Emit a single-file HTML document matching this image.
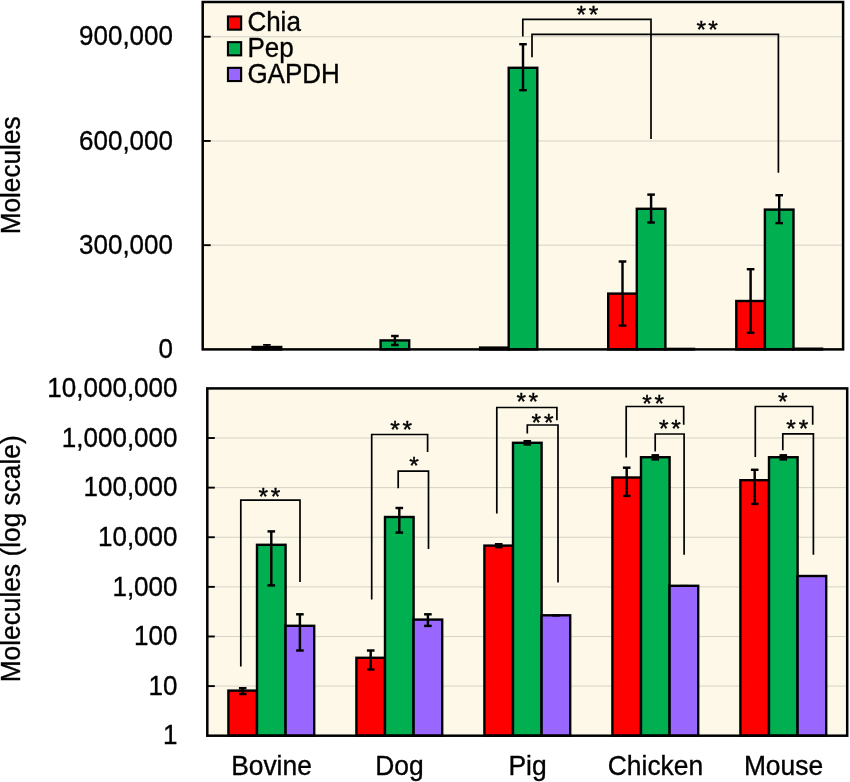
<!DOCTYPE html>
<html><head><meta charset="utf-8"><title>Chart</title>
<style>
html,body{margin:0;padding:0;background:#fff;}
body{width:850px;height:782px;overflow:hidden;font-family:"Liberation Sans",sans-serif;}
svg{display:block;will-change:transform;}
text{fill:#000;}
</style></head><body>
<svg width="850" height="782" viewBox="0 0 850 782">
<rect x="0" y="0" width="850" height="782" fill="#ffffff"/>
<rect x="202.7" y="2.0" width="640.4000000000001" height="347.4" fill="#fdf8e8"/>
<line x1="202.70" y1="245.18" x2="843.10" y2="245.18" stroke="#d6d2c6" stroke-width="1.0"/>
<line x1="202.70" y1="245.18" x2="210.70" y2="245.18" stroke="#000" stroke-width="1.9"/>
<line x1="202.70" y1="140.96" x2="843.10" y2="140.96" stroke="#d6d2c6" stroke-width="1.0"/>
<line x1="202.70" y1="140.96" x2="210.70" y2="140.96" stroke="#000" stroke-width="1.9"/>
<line x1="202.70" y1="36.74" x2="843.10" y2="36.74" stroke="#d6d2c6" stroke-width="1.0"/>
<line x1="202.70" y1="36.74" x2="210.70" y2="36.74" stroke="#000" stroke-width="1.9"/>
<rect x="252.60" y="347.00" width="28.60" height="2.40" fill="#00b050" stroke="#000" stroke-width="2.4"/>
<rect x="380.60" y="340.40" width="28.60" height="9.00" fill="#00b050" stroke="#000" stroke-width="2.4"/>
<rect x="480.10" y="347.60" width="28.60" height="1.80" fill="#ff0000" stroke="#000" stroke-width="2.4"/>
<rect x="508.70" y="67.80" width="28.60" height="281.60" fill="#00b050" stroke="#000" stroke-width="2.4"/>
<rect x="608.20" y="293.60" width="28.60" height="55.80" fill="#ff0000" stroke="#000" stroke-width="2.4"/>
<rect x="636.80" y="208.80" width="28.60" height="140.60" fill="#00b050" stroke="#000" stroke-width="2.4"/>
<rect x="665.40" y="348.90" width="28.60" height="0.50" fill="#9966ff" stroke="#000" stroke-width="2.4"/>
<rect x="736.30" y="301.00" width="28.60" height="48.40" fill="#ff0000" stroke="#000" stroke-width="2.4"/>
<rect x="764.90" y="209.60" width="28.60" height="139.80" fill="#00b050" stroke="#000" stroke-width="2.4"/>
<rect x="793.50" y="348.70" width="28.60" height="0.70" fill="#9966ff" stroke="#000" stroke-width="2.4"/>
<line x1="266.90" y1="344.90" x2="266.90" y2="348.00" stroke="#000" stroke-width="1.8"/>
<line x1="263.10" y1="344.90" x2="270.70" y2="344.90" stroke="#000" stroke-width="1.8"/>
<line x1="263.10" y1="348.00" x2="270.70" y2="348.00" stroke="#000" stroke-width="1.8"/>
<line x1="394.90" y1="336.00" x2="394.90" y2="345.00" stroke="#000" stroke-width="2.45"/>
<line x1="391.10" y1="336.00" x2="398.70" y2="336.00" stroke="#000" stroke-width="2.45"/>
<line x1="391.10" y1="345.00" x2="398.70" y2="345.00" stroke="#000" stroke-width="2.45"/>
<line x1="523.00" y1="44.20" x2="523.00" y2="90.20" stroke="#000" stroke-width="2.45"/>
<line x1="519.20" y1="44.20" x2="526.80" y2="44.20" stroke="#000" stroke-width="2.45"/>
<line x1="519.20" y1="90.20" x2="526.80" y2="90.20" stroke="#000" stroke-width="2.45"/>
<line x1="622.50" y1="261.50" x2="622.50" y2="325.60" stroke="#000" stroke-width="2.45"/>
<line x1="618.70" y1="261.50" x2="626.30" y2="261.50" stroke="#000" stroke-width="2.45"/>
<line x1="618.70" y1="325.60" x2="626.30" y2="325.60" stroke="#000" stroke-width="2.45"/>
<line x1="651.10" y1="194.60" x2="651.10" y2="222.50" stroke="#000" stroke-width="2.45"/>
<line x1="647.30" y1="194.60" x2="654.90" y2="194.60" stroke="#000" stroke-width="2.45"/>
<line x1="647.30" y1="222.50" x2="654.90" y2="222.50" stroke="#000" stroke-width="2.45"/>
<line x1="750.60" y1="269.20" x2="750.60" y2="332.70" stroke="#000" stroke-width="2.45"/>
<line x1="746.80" y1="269.20" x2="754.40" y2="269.20" stroke="#000" stroke-width="2.45"/>
<line x1="746.80" y1="332.70" x2="754.40" y2="332.70" stroke="#000" stroke-width="2.45"/>
<line x1="779.20" y1="195.20" x2="779.20" y2="223.10" stroke="#000" stroke-width="2.45"/>
<line x1="775.40" y1="195.20" x2="783.00" y2="195.20" stroke="#000" stroke-width="2.45"/>
<line x1="775.40" y1="223.10" x2="783.00" y2="223.10" stroke="#000" stroke-width="2.45"/>
<polyline points="522.80,36.50 522.80,19.30 651.00,19.30 651.00,139.00" fill="none" stroke="#000" stroke-width="1.7"/>
<polyline points="532.00,57.20 532.00,34.40 778.40,34.40 778.40,172.80" fill="none" stroke="#000" stroke-width="1.7"/>
<text x="581.30" y="22.70" font-size="24.5" text-anchor="middle" font-family="Liberation Sans, sans-serif" stroke="#000" stroke-width="0.4">*</text>
<text x="593.60" y="22.70" font-size="24.5" text-anchor="middle" font-family="Liberation Sans, sans-serif" stroke="#000" stroke-width="0.4">*</text>
<text x="701.20" y="37.70" font-size="24.5" text-anchor="middle" font-family="Liberation Sans, sans-serif" stroke="#000" stroke-width="0.4">*</text>
<text x="712.90" y="37.70" font-size="24.5" text-anchor="middle" font-family="Liberation Sans, sans-serif" stroke="#000" stroke-width="0.4">*</text>
<rect x="202.7" y="2.0" width="640.4000000000001" height="347.4" fill="none" stroke="#000" stroke-width="2.5"/>
<rect x="227.95" y="16.45" width="13.2" height="13.2" fill="#ff0000" stroke="#000" stroke-width="2.1"/>
<text x="247.40" y="31.45" font-size="27.2" text-anchor="start" font-family="Liberation Sans, sans-serif" textLength="53.47" lengthAdjust="spacingAndGlyphs" stroke="#000" stroke-width="0.35">Chia</text>
<rect x="227.95" y="42.15" width="13.2" height="13.2" fill="#00b050" stroke="#000" stroke-width="2.1"/>
<text x="247.40" y="57.15" font-size="27.2" text-anchor="start" font-family="Liberation Sans, sans-serif" textLength="46.26" lengthAdjust="spacingAndGlyphs" stroke="#000" stroke-width="0.35">Pep</text>
<rect x="227.95" y="67.85" width="13.2" height="13.2" fill="#9966ff" stroke="#000" stroke-width="2.1"/>
<text x="247.40" y="82.85" font-size="27.2" text-anchor="start" font-family="Liberation Sans, sans-serif" textLength="92.46" lengthAdjust="spacingAndGlyphs" stroke="#000" stroke-width="0.35">GAPDH</text>
<text x="173.00" y="358.10" font-size="27.9" text-anchor="end" font-family="Liberation Sans, sans-serif" textLength="14.46" lengthAdjust="spacingAndGlyphs" stroke="#000" stroke-width="0.35">0</text>
<text x="173.00" y="253.88" font-size="27.9" text-anchor="end" font-family="Liberation Sans, sans-serif" textLength="93.98" lengthAdjust="spacingAndGlyphs" stroke="#000" stroke-width="0.35">300,000</text>
<text x="173.00" y="149.66" font-size="27.9" text-anchor="end" font-family="Liberation Sans, sans-serif" textLength="93.98" lengthAdjust="spacingAndGlyphs" stroke="#000" stroke-width="0.35">600,000</text>
<text x="173.00" y="45.44" font-size="27.9" text-anchor="end" font-family="Liberation Sans, sans-serif" textLength="93.98" lengthAdjust="spacingAndGlyphs" stroke="#000" stroke-width="0.35">900,000</text>
<text x="0.00" y="0.00" font-size="27.5" text-anchor="middle" font-family="Liberation Sans, sans-serif" textLength="117.95" lengthAdjust="spacingAndGlyphs" stroke="#000" stroke-width="0.35" transform="translate(20.0,175.4) rotate(-90)">Molecules</text>
<rect x="207.3" y="388.4" width="639.9000000000001" height="347.30000000000007" fill="#fdf8e8"/>
<line x1="207.30" y1="686.09" x2="847.20" y2="686.09" stroke="#d6d2c6" stroke-width="1.0"/>
<line x1="207.30" y1="686.09" x2="214.80" y2="686.09" stroke="#000" stroke-width="1.9"/>
<line x1="207.30" y1="636.47" x2="847.20" y2="636.47" stroke="#d6d2c6" stroke-width="1.0"/>
<line x1="207.30" y1="636.47" x2="214.80" y2="636.47" stroke="#000" stroke-width="1.9"/>
<line x1="207.30" y1="586.86" x2="847.20" y2="586.86" stroke="#d6d2c6" stroke-width="1.0"/>
<line x1="207.30" y1="586.86" x2="214.80" y2="586.86" stroke="#000" stroke-width="1.9"/>
<line x1="207.30" y1="537.24" x2="847.20" y2="537.24" stroke="#d6d2c6" stroke-width="1.0"/>
<line x1="207.30" y1="537.24" x2="214.80" y2="537.24" stroke="#000" stroke-width="1.9"/>
<line x1="207.30" y1="487.63" x2="847.20" y2="487.63" stroke="#d6d2c6" stroke-width="1.0"/>
<line x1="207.30" y1="487.63" x2="214.80" y2="487.63" stroke="#000" stroke-width="1.9"/>
<line x1="207.30" y1="438.01" x2="847.20" y2="438.01" stroke="#d6d2c6" stroke-width="1.0"/>
<line x1="207.30" y1="438.01" x2="214.80" y2="438.01" stroke="#000" stroke-width="1.9"/>
<rect x="228.40" y="690.60" width="28.60" height="45.10" fill="#ff0000" stroke="#000" stroke-width="2.4"/>
<rect x="257.00" y="544.80" width="28.60" height="190.90" fill="#00b050" stroke="#000" stroke-width="2.4"/>
<rect x="285.60" y="625.80" width="28.60" height="109.90" fill="#9966ff" stroke="#000" stroke-width="2.4"/>
<rect x="356.40" y="657.80" width="28.60" height="77.90" fill="#ff0000" stroke="#000" stroke-width="2.4"/>
<rect x="385.00" y="517.00" width="28.60" height="218.70" fill="#00b050" stroke="#000" stroke-width="2.4"/>
<rect x="413.60" y="619.60" width="28.60" height="116.10" fill="#9966ff" stroke="#000" stroke-width="2.4"/>
<rect x="484.40" y="545.60" width="28.60" height="190.10" fill="#ff0000" stroke="#000" stroke-width="2.4"/>
<rect x="513.00" y="442.80" width="28.60" height="292.90" fill="#00b050" stroke="#000" stroke-width="2.4"/>
<rect x="541.60" y="615.30" width="28.60" height="120.40" fill="#9966ff" stroke="#000" stroke-width="2.4"/>
<rect x="612.40" y="477.50" width="28.60" height="258.20" fill="#ff0000" stroke="#000" stroke-width="2.4"/>
<rect x="641.00" y="457.20" width="28.60" height="278.50" fill="#00b050" stroke="#000" stroke-width="2.4"/>
<rect x="669.60" y="585.80" width="28.60" height="149.90" fill="#9966ff" stroke="#000" stroke-width="2.4"/>
<rect x="740.40" y="480.20" width="28.60" height="255.50" fill="#ff0000" stroke="#000" stroke-width="2.4"/>
<rect x="769.00" y="457.20" width="28.60" height="278.50" fill="#00b050" stroke="#000" stroke-width="2.4"/>
<rect x="797.60" y="576.00" width="28.60" height="159.70" fill="#9966ff" stroke="#000" stroke-width="2.4"/>
<line x1="242.70" y1="688.20" x2="242.70" y2="694.00" stroke="#000" stroke-width="2.45"/>
<line x1="238.90" y1="688.20" x2="246.50" y2="688.20" stroke="#000" stroke-width="2.45"/>
<line x1="238.90" y1="694.00" x2="246.50" y2="694.00" stroke="#000" stroke-width="2.45"/>
<line x1="271.30" y1="531.40" x2="271.30" y2="585.40" stroke="#000" stroke-width="2.45"/>
<line x1="267.50" y1="531.40" x2="275.10" y2="531.40" stroke="#000" stroke-width="2.45"/>
<line x1="267.50" y1="585.40" x2="275.10" y2="585.40" stroke="#000" stroke-width="2.45"/>
<line x1="299.90" y1="614.30" x2="299.90" y2="650.50" stroke="#000" stroke-width="2.45"/>
<line x1="296.10" y1="614.30" x2="303.70" y2="614.30" stroke="#000" stroke-width="2.45"/>
<line x1="296.10" y1="650.50" x2="303.70" y2="650.50" stroke="#000" stroke-width="2.45"/>
<line x1="370.70" y1="650.50" x2="370.70" y2="669.50" stroke="#000" stroke-width="2.45"/>
<line x1="366.90" y1="650.50" x2="374.50" y2="650.50" stroke="#000" stroke-width="2.45"/>
<line x1="366.90" y1="669.50" x2="374.50" y2="669.50" stroke="#000" stroke-width="2.45"/>
<line x1="399.30" y1="508.00" x2="399.30" y2="532.60" stroke="#000" stroke-width="2.45"/>
<line x1="395.50" y1="508.00" x2="403.10" y2="508.00" stroke="#000" stroke-width="2.45"/>
<line x1="395.50" y1="532.60" x2="403.10" y2="532.60" stroke="#000" stroke-width="2.45"/>
<line x1="427.90" y1="614.30" x2="427.90" y2="625.90" stroke="#000" stroke-width="2.45"/>
<line x1="424.10" y1="614.30" x2="431.70" y2="614.30" stroke="#000" stroke-width="2.45"/>
<line x1="424.10" y1="625.90" x2="431.70" y2="625.90" stroke="#000" stroke-width="2.45"/>
<line x1="498.70" y1="544.20" x2="498.70" y2="547.20" stroke="#000" stroke-width="2.45"/>
<line x1="494.90" y1="544.20" x2="502.50" y2="544.20" stroke="#000" stroke-width="2.45"/>
<line x1="494.90" y1="547.20" x2="502.50" y2="547.20" stroke="#000" stroke-width="2.45"/>
<line x1="527.30" y1="441.20" x2="527.30" y2="444.40" stroke="#000" stroke-width="2.45"/>
<line x1="523.50" y1="441.20" x2="531.10" y2="441.20" stroke="#000" stroke-width="2.45"/>
<line x1="523.50" y1="444.40" x2="531.10" y2="444.40" stroke="#000" stroke-width="2.45"/>
<line x1="555.90" y1="614.80" x2="555.90" y2="616.00" stroke="#000" stroke-width="1.2"/>
<line x1="552.10" y1="614.80" x2="559.70" y2="614.80" stroke="#000" stroke-width="1.2"/>
<line x1="552.10" y1="616.00" x2="559.70" y2="616.00" stroke="#000" stroke-width="1.2"/>
<line x1="626.70" y1="467.70" x2="626.70" y2="495.90" stroke="#000" stroke-width="2.45"/>
<line x1="622.90" y1="467.70" x2="630.50" y2="467.70" stroke="#000" stroke-width="2.45"/>
<line x1="622.90" y1="495.90" x2="630.50" y2="495.90" stroke="#000" stroke-width="2.45"/>
<line x1="655.30" y1="455.30" x2="655.30" y2="459.40" stroke="#000" stroke-width="2.45"/>
<line x1="651.50" y1="455.30" x2="659.10" y2="455.30" stroke="#000" stroke-width="2.45"/>
<line x1="651.50" y1="459.40" x2="659.10" y2="459.40" stroke="#000" stroke-width="2.45"/>
<line x1="683.90" y1="585.40" x2="683.90" y2="586.20" stroke="#000" stroke-width="1.0"/>
<line x1="680.10" y1="585.40" x2="687.70" y2="585.40" stroke="#000" stroke-width="1.0"/>
<line x1="680.10" y1="586.20" x2="687.70" y2="586.20" stroke="#000" stroke-width="1.0"/>
<line x1="754.70" y1="469.80" x2="754.70" y2="503.90" stroke="#000" stroke-width="2.45"/>
<line x1="750.90" y1="469.80" x2="758.50" y2="469.80" stroke="#000" stroke-width="2.45"/>
<line x1="750.90" y1="503.90" x2="758.50" y2="503.90" stroke="#000" stroke-width="2.45"/>
<line x1="783.30" y1="455.30" x2="783.30" y2="459.40" stroke="#000" stroke-width="2.45"/>
<line x1="779.50" y1="455.30" x2="787.10" y2="455.30" stroke="#000" stroke-width="2.45"/>
<line x1="779.50" y1="459.40" x2="787.10" y2="459.40" stroke="#000" stroke-width="2.45"/>
<line x1="811.90" y1="575.60" x2="811.90" y2="576.40" stroke="#000" stroke-width="1.0"/>
<line x1="808.10" y1="575.60" x2="815.70" y2="575.60" stroke="#000" stroke-width="1.0"/>
<line x1="808.10" y1="576.40" x2="815.70" y2="576.40" stroke="#000" stroke-width="1.0"/>
<polyline points="240.80,666.40 240.80,500.20 300.00,500.20 300.00,582.00" fill="none" stroke="#000" stroke-width="1.7"/>
<text x="263.20" y="505.10" font-size="24.5" text-anchor="middle" font-family="Liberation Sans, sans-serif" stroke="#000" stroke-width="0.4">*</text>
<text x="275.40" y="505.10" font-size="24.5" text-anchor="middle" font-family="Liberation Sans, sans-serif" stroke="#000" stroke-width="0.4">*</text>
<polyline points="371.70,599.60 371.70,434.50 427.60,434.50 427.60,451.90" fill="none" stroke="#000" stroke-width="1.7"/>
<text x="394.90" y="437.80" font-size="24.5" text-anchor="middle" font-family="Liberation Sans, sans-serif" stroke="#000" stroke-width="0.4">*</text>
<text x="407.20" y="437.80" font-size="24.5" text-anchor="middle" font-family="Liberation Sans, sans-serif" stroke="#000" stroke-width="0.4">*</text>
<polyline points="398.20,488.20 398.20,471.20 428.50,471.20 428.50,548.90" fill="none" stroke="#000" stroke-width="1.7"/>
<text x="413.90" y="473.70" font-size="24.5" text-anchor="middle" font-family="Liberation Sans, sans-serif" stroke="#000" stroke-width="0.4">*</text>
<polyline points="496.80,513.40 496.80,407.50 556.90,407.50 556.90,420.20" fill="none" stroke="#000" stroke-width="1.7"/>
<text x="521.30" y="410.10" font-size="24.5" text-anchor="middle" font-family="Liberation Sans, sans-serif" stroke="#000" stroke-width="0.4">*</text>
<text x="533.30" y="410.10" font-size="24.5" text-anchor="middle" font-family="Liberation Sans, sans-serif" stroke="#000" stroke-width="0.4">*</text>
<polyline points="527.30,433.60 527.30,425.00 558.00,425.00 558.00,582.40" fill="none" stroke="#000" stroke-width="1.7"/>
<text x="536.30" y="430.90" font-size="24.5" text-anchor="middle" font-family="Liberation Sans, sans-serif" stroke="#000" stroke-width="0.4">*</text>
<text x="548.80" y="430.90" font-size="24.5" text-anchor="middle" font-family="Liberation Sans, sans-serif" stroke="#000" stroke-width="0.4">*</text>
<polyline points="626.20,457.50 626.20,406.50 683.70,406.50 683.70,424.70" fill="none" stroke="#000" stroke-width="1.7"/>
<text x="647.10" y="411.90" font-size="24.5" text-anchor="middle" font-family="Liberation Sans, sans-serif" stroke="#000" stroke-width="0.4">*</text>
<text x="659.30" y="411.90" font-size="24.5" text-anchor="middle" font-family="Liberation Sans, sans-serif" stroke="#000" stroke-width="0.4">*</text>
<polyline points="655.20,451.60 655.20,434.00 684.10,434.00 684.10,554.80" fill="none" stroke="#000" stroke-width="1.7"/>
<text x="663.70" y="437.20" font-size="24.5" text-anchor="middle" font-family="Liberation Sans, sans-serif" stroke="#000" stroke-width="0.4">*</text>
<text x="676.00" y="437.20" font-size="24.5" text-anchor="middle" font-family="Liberation Sans, sans-serif" stroke="#000" stroke-width="0.4">*</text>
<polyline points="755.30,456.90 755.30,406.50 812.70,406.50 812.70,424.70" fill="none" stroke="#000" stroke-width="1.7"/>
<text x="782.70" y="409.50" font-size="24.5" text-anchor="middle" font-family="Liberation Sans, sans-serif" stroke="#000" stroke-width="0.4">*</text>
<polyline points="782.80,450.30 782.80,433.80 813.40,433.80 813.40,554.80" fill="none" stroke="#000" stroke-width="1.7"/>
<text x="791.00" y="437.20" font-size="24.5" text-anchor="middle" font-family="Liberation Sans, sans-serif" stroke="#000" stroke-width="0.4">*</text>
<text x="803.50" y="437.20" font-size="24.5" text-anchor="middle" font-family="Liberation Sans, sans-serif" stroke="#000" stroke-width="0.4">*</text>
<rect x="207.3" y="388.4" width="639.9000000000001" height="347.30000000000007" fill="none" stroke="#000" stroke-width="2.5"/>
<text x="177.50" y="744.40" font-size="27.9" text-anchor="end" font-family="Liberation Sans, sans-serif" textLength="14.46" lengthAdjust="spacingAndGlyphs" stroke="#000" stroke-width="0.35">1</text>
<text x="177.50" y="694.79" font-size="27.9" text-anchor="end" font-family="Liberation Sans, sans-serif" textLength="28.92" lengthAdjust="spacingAndGlyphs" stroke="#000" stroke-width="0.35">10</text>
<text x="177.50" y="645.17" font-size="27.9" text-anchor="end" font-family="Liberation Sans, sans-serif" textLength="43.38" lengthAdjust="spacingAndGlyphs" stroke="#000" stroke-width="0.35">100</text>
<text x="177.50" y="595.56" font-size="27.9" text-anchor="end" font-family="Liberation Sans, sans-serif" textLength="65.06" lengthAdjust="spacingAndGlyphs" stroke="#000" stroke-width="0.35">1,000</text>
<text x="177.50" y="545.94" font-size="27.9" text-anchor="end" font-family="Liberation Sans, sans-serif" textLength="79.52" lengthAdjust="spacingAndGlyphs" stroke="#000" stroke-width="0.35">10,000</text>
<text x="177.50" y="496.33" font-size="27.9" text-anchor="end" font-family="Liberation Sans, sans-serif" textLength="93.98" lengthAdjust="spacingAndGlyphs" stroke="#000" stroke-width="0.35">100,000</text>
<text x="177.50" y="446.71" font-size="27.9" text-anchor="end" font-family="Liberation Sans, sans-serif" textLength="115.67" lengthAdjust="spacingAndGlyphs" stroke="#000" stroke-width="0.35">1,000,000</text>
<text x="177.50" y="397.10" font-size="27.9" text-anchor="end" font-family="Liberation Sans, sans-serif" textLength="130.13" lengthAdjust="spacingAndGlyphs" stroke="#000" stroke-width="0.35">10,000,000</text>
<text x="0.00" y="0.00" font-size="27.5" text-anchor="middle" font-family="Liberation Sans, sans-serif" textLength="247.03" lengthAdjust="spacingAndGlyphs" stroke="#000" stroke-width="0.35" transform="translate(20.2,558.8) rotate(-90)">Molecules (log scale)</text>
<text x="271.50" y="774.90" font-size="27.4" text-anchor="middle" font-family="Liberation Sans, sans-serif" textLength="80.72" lengthAdjust="spacingAndGlyphs" stroke="#000" stroke-width="0.35">Bovine</text>
<text x="399.50" y="774.90" font-size="27.4" text-anchor="middle" font-family="Liberation Sans, sans-serif" textLength="48.43" lengthAdjust="spacingAndGlyphs" stroke="#000" stroke-width="0.35">Dog</text>
<text x="527.50" y="774.90" font-size="27.4" text-anchor="middle" font-family="Liberation Sans, sans-serif" textLength="38.16" lengthAdjust="spacingAndGlyphs" stroke="#000" stroke-width="0.35">Pig</text>
<text x="655.50" y="774.90" font-size="27.4" text-anchor="middle" font-family="Liberation Sans, sans-serif" textLength="95.38" lengthAdjust="spacingAndGlyphs" stroke="#000" stroke-width="0.35">Chicken</text>
<text x="783.50" y="774.90" font-size="27.4" text-anchor="middle" font-family="Liberation Sans, sans-serif" textLength="79.24" lengthAdjust="spacingAndGlyphs" stroke="#000" stroke-width="0.35">Mouse</text>
</svg>
</body></html>
